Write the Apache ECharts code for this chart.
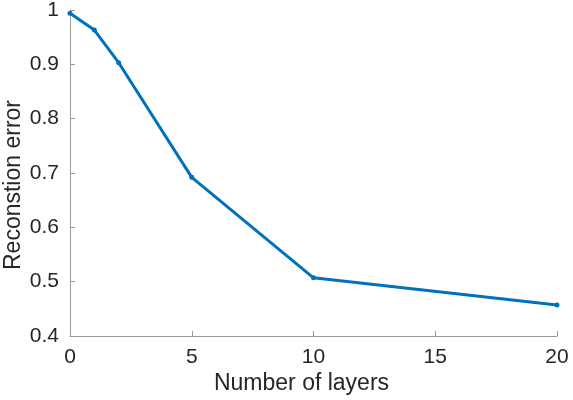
<!DOCTYPE html>
<html>
<head>
<meta charset="utf-8">
<script src="https://cdn.jsdelivr.net/npm/echarts@6/dist/echarts.min.js"></script>
<style>html,body{margin:0;padding:0;background:#fff;}#c{width:573px;height:400px;}</style>
</head>
<body>
<div id="c"></div>
<script>
const layers = [0, 1, 2, 5, 10, 20];
const errors = [0.994, 0.963, 0.903, 0.692, 0.507, 0.457];
const xTicks = [0, 5, 10, 15, 20];
const yTicks = [0.4, 0.5, 0.6, 0.7, 0.8, 0.9, 1];

const chart = echarts.init(document.getElementById('c'));
const textColor = '#262626';
const axisColor = '#9a9a9a';
chart.setOption({
  animation: false,
  grid: {left: 70, right: 16, top: 10, bottom: 64, containLabel: false, outerBoundsMode: 'none'},
  xAxis: {
    type: 'value', min: 0, max: 20, interval: 5,
    name: 'Number of layers', nameLocation: 'middle', nameGap: 36, nameMoveOverlap: false,
    nameTextStyle: {color: textColor, fontSize: 23, fontFamily: 'Liberation Sans', padding: [0, 24, 0, 0]},
    axisLine: {show: true, lineStyle: {color: axisColor, width: 1}},
    axisTick: {show: true, inside: true, length: 5, lineStyle: {color: axisColor}},
    axisLabel: {color: textColor, fontSize: 21, fontFamily: 'Liberation Sans', margin: 11,
      formatter: v => xTicks.includes(v) ? String(v) : ''},
    splitLine: {show: false}
  },
  yAxis: {
    type: 'value', min: 0.4, max: 1, interval: 0.1,
    name: 'Reconstion error', nameLocation: 'middle', nameGap: 45, nameMoveOverlap: false,
    nameTextStyle: {color: textColor, fontSize: 23, fontFamily: 'Liberation Sans', padding: [0, 24, 0, 0]},
    axisLine: {show: true, lineStyle: {color: axisColor, width: 1}},
    axisTick: {show: true, inside: true, length: 5, lineStyle: {color: axisColor}},
    axisLabel: {color: textColor, fontSize: 21, fontFamily: 'Liberation Sans', margin: 11,
      formatter: v => { const t = yTicks.find(y => Math.abs(y - v) < 1e-6); return t === undefined ? '' : String(t); }},
    splitLine: {show: false}
  },
  series: [{
    type: 'line',
    data: layers.map((x, i) => [x, errors[i]]),
    symbol: 'circle', symbolSize: 5,
    lineStyle: {color: '#0072BD', width: 3},
    itemStyle: {color: '#0072BD'}
  }]
});
</script>
</body>
</html>
